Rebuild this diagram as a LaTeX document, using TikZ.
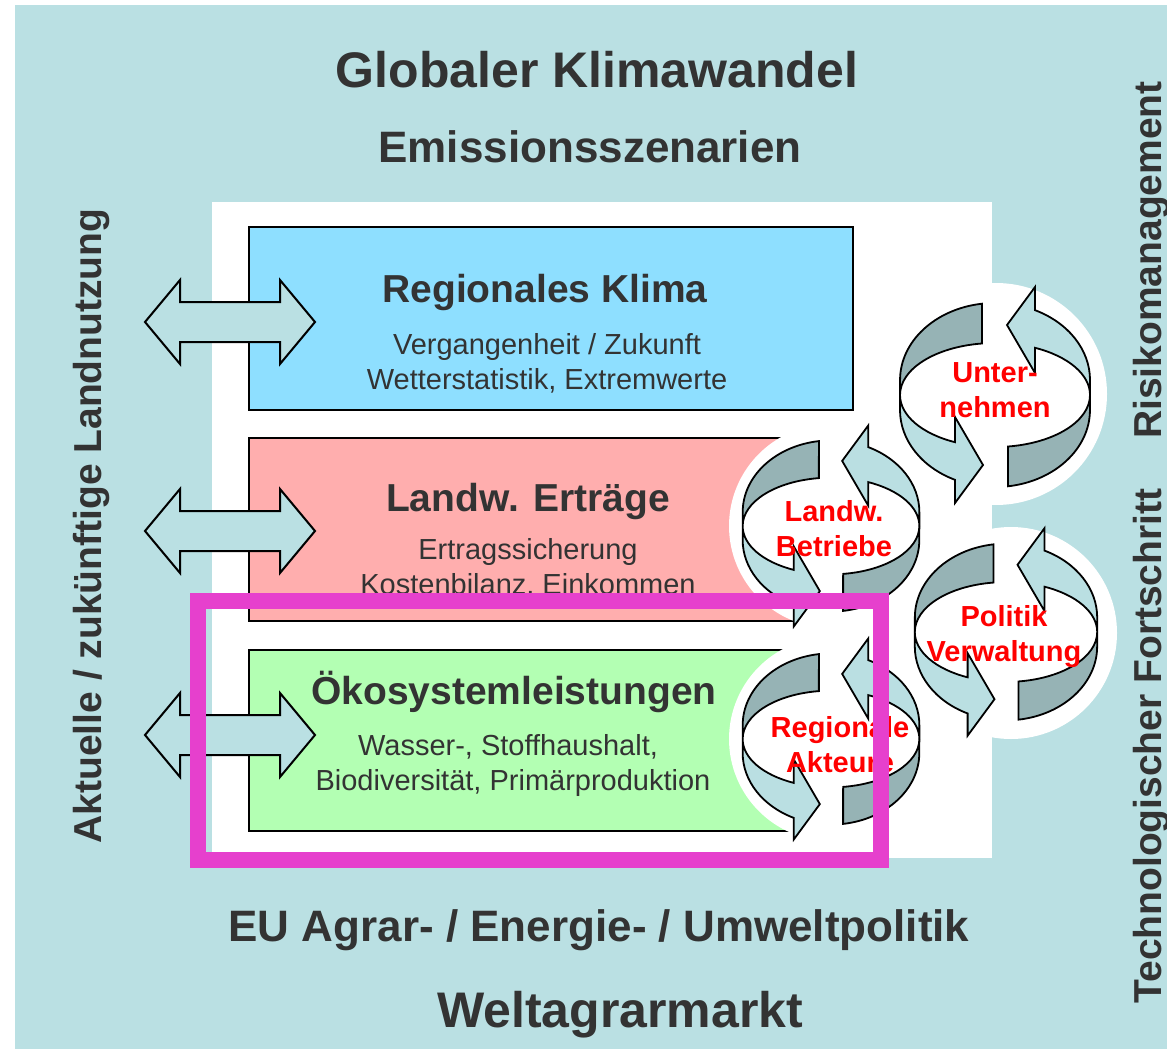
\documentclass[tikz,border=0pt]{standalone}
\usepackage{fontspec}
\setmainfont{Liberation Sans}
\usepackage{tikz}
\usetikzlibrary{shapes.geometric, arrows}
\definecolor{bgteal}{RGB}{186,224,227}
\definecolor{txtgray}{RGB}{51,51,51}
\definecolor{klimablue}{RGB}{142,223,255}
\definecolor{ertragpink}{RGB}{255,174,174}
\definecolor{oekogreen}{RGB}{179,255,179}
\definecolor{bandlight}{RGB}{186,223,226}
\definecolor{banddark}{RGB}{150,179,181}
\definecolor{markpink}{RGB}{230,64,205}
\tikzstyle{box} = [draw=black, line width=2pt]
\tikzstyle{band} = [draw=black, line width=1.8pt]
\tikzstyle{dblarrow} = [draw=black, line width=2pt, fill=bgteal]
\tikzstyle{bigtitle} = [text=txtgray, font=\fontsize{50}{60}\selectfont\bfseries, anchor=base]
\tikzstyle{subtitle} = [text=txtgray, font=\fontsize{44}{53}\selectfont\bfseries, anchor=base]
\tikzstyle{boxtitle} = [text=txtgray, font=\fontsize{39}{47}\selectfont\bfseries, anchor=base]
\tikzstyle{boxtext} = [text=txtgray, font=\fontsize{29}{35}\selectfont, anchor=base]
\tikzstyle{sidetext} = [text=txtgray, font=\fontsize{39}{47}\selectfont\bfseries, anchor=base, rotate=90]
\tikzstyle{actor} = [text=red, font=\fontsize{29}{35}\selectfont\bfseries, align=center, inner sep=0pt]

% one half of a circular arrow: dark back part and light front part with head
\newcommand{\halfcycle}{%
  \draw[band, fill=banddark] (-13,91.3) arc[start angle=97.9, end angle=180, x radius=95, y radius=77]
    -- (-95,0) arc[start angle=180, end angle=97.9, x radius=95, y radius=52] -- cycle;
  \draw[band, fill=bandlight] (-95,0) -- (-95,-15) arc[start angle=180, end angle=245.1, x radius=95, y radius=77]
    -- (-40,-108) -- (-12,-70) -- (-40,-22) -- (-40,-47.2)
    arc[start angle=245.1, end angle=180, x radius=95, y radius=52] -- cycle;
}
\newcommand{\cyclesym}[2]{%
  \begin{scope}[shift={(#1)}, scale=#2]
    \halfcycle
    \begin{scope}[rotate=180]
      \halfcycle
    \end{scope}
  \end{scope}
}

\begin{document}
\begin{tikzpicture}[x=1pt, y=1pt]
    \useasboundingbox (0,0) rectangle (1167,-1049);
    % Background
    \fill[bgteal] (15,-5) rectangle (1167,-1049);
    \fill[white] (212,-202) rectangle (992,-858);

    % Centres of the circular arrows
    \coordinate (unt) at (995,-395);
    \coordinate (betr) at (831,-526);
    \coordinate (pol) at (1006,-632);
    \coordinate (akt) at (831,-739);
    \fill[white] (996,-394) circle[radius=111];
    \fill[white] (1011,-633) circle[radius=106];

    % Boxes
    \draw[box, fill=klimablue] (249,-227) rectangle (853,-410);
    \draw[box, fill=ertragpink] (249,-438) rectangle (853,-621);
    \draw[box, fill=oekogreen] (249,-650) rectangle (853,-831);
    \fill[white] (betr) circle[radius=102];
    \fill[white] (akt) circle[radius=102];

    % Double arrows
    \foreach \yy in {322,531,735}
      \draw[dblarrow] (145,-\yy) -- (180,-\yy+42) -- (180,-\yy+20) -- (280,-\yy+20) -- (280,-\yy+42)
        -- (315,-\yy) -- (280,-\yy-42) -- (280,-\yy-20) -- (180,-\yy-20) -- (180,-\yy-42) -- cycle;

    % Texts
    \node[bigtitle] (klimawandel) at (597,-87) {Globaler Klimawandel};
    \node[subtitle] (emission) at (590,-162) {Emissionsszenarien};
    \node[boxtitle] (klima) at (545,-302) {Regionales Klima};
    \node[boxtext] (klima1) at (547,-354) {Vergangenheit / Zukunft};
    \node[boxtext] (klima2) at (547,-389) {Wetterstatistik, Extremwerte};
    \node[boxtitle] (ertrag) at (528,-511) {Landw. Erträge};
    \node[boxtext] (ertrag1) at (528,-559) {Ertragssicherung};
    \node[boxtext] (ertrag2) at (528,-594) {Kostenbilanz, Einkommen};
    \node[boxtitle] (oeko) at (514,-704) {Ökosystemleistungen};
    \node[boxtext] (oeko1) at (508,-755) {Wasser-, Stoffhaushalt,};
    \node[boxtext] (oeko2) at (513,-790) {Biodiversität, Primärproduktion};
    \node[subtitle] (agrarpolitik) at (599,-941) {EU Agrar- / Energie- / Umweltpolitik};
    \node[bigtitle] (weltmarkt) at (620,-1027) {Weltagrarmarkt};
    \node[sidetext] (landnutzung) at (101,-526) {Aktuelle / zukünftige Landnutzung};
    \node[sidetext] (fortschritt) at (1161,-746) {Technologischer Fortschritt};
    \node[sidetext] (risiko) at (1161,-260) {Risikomanagement};

    % Circular arrows
    \cyclesym{betr}{0.93}
    \cyclesym{akt}{0.93}
    \cyclesym{unt}{1}
    \cyclesym{pol}{0.96}
    \node[actor] (untlabel) at (995,-390) {Unter-\\nehmen};
    \node[actor] (betrlabel) at (834,-529) {Landw.\\Betriebe};
    \node[actor] (pollabel) at (1004,-637) {Politik\\Verwaltung};
    \node[actor] (aktlabel) at (840,-745) {Regionale\\Akteure};

    % Frame
    \draw[markpink, line width=16pt] (198,-601) rectangle (881,-860);
\end{tikzpicture}
\end{document}
